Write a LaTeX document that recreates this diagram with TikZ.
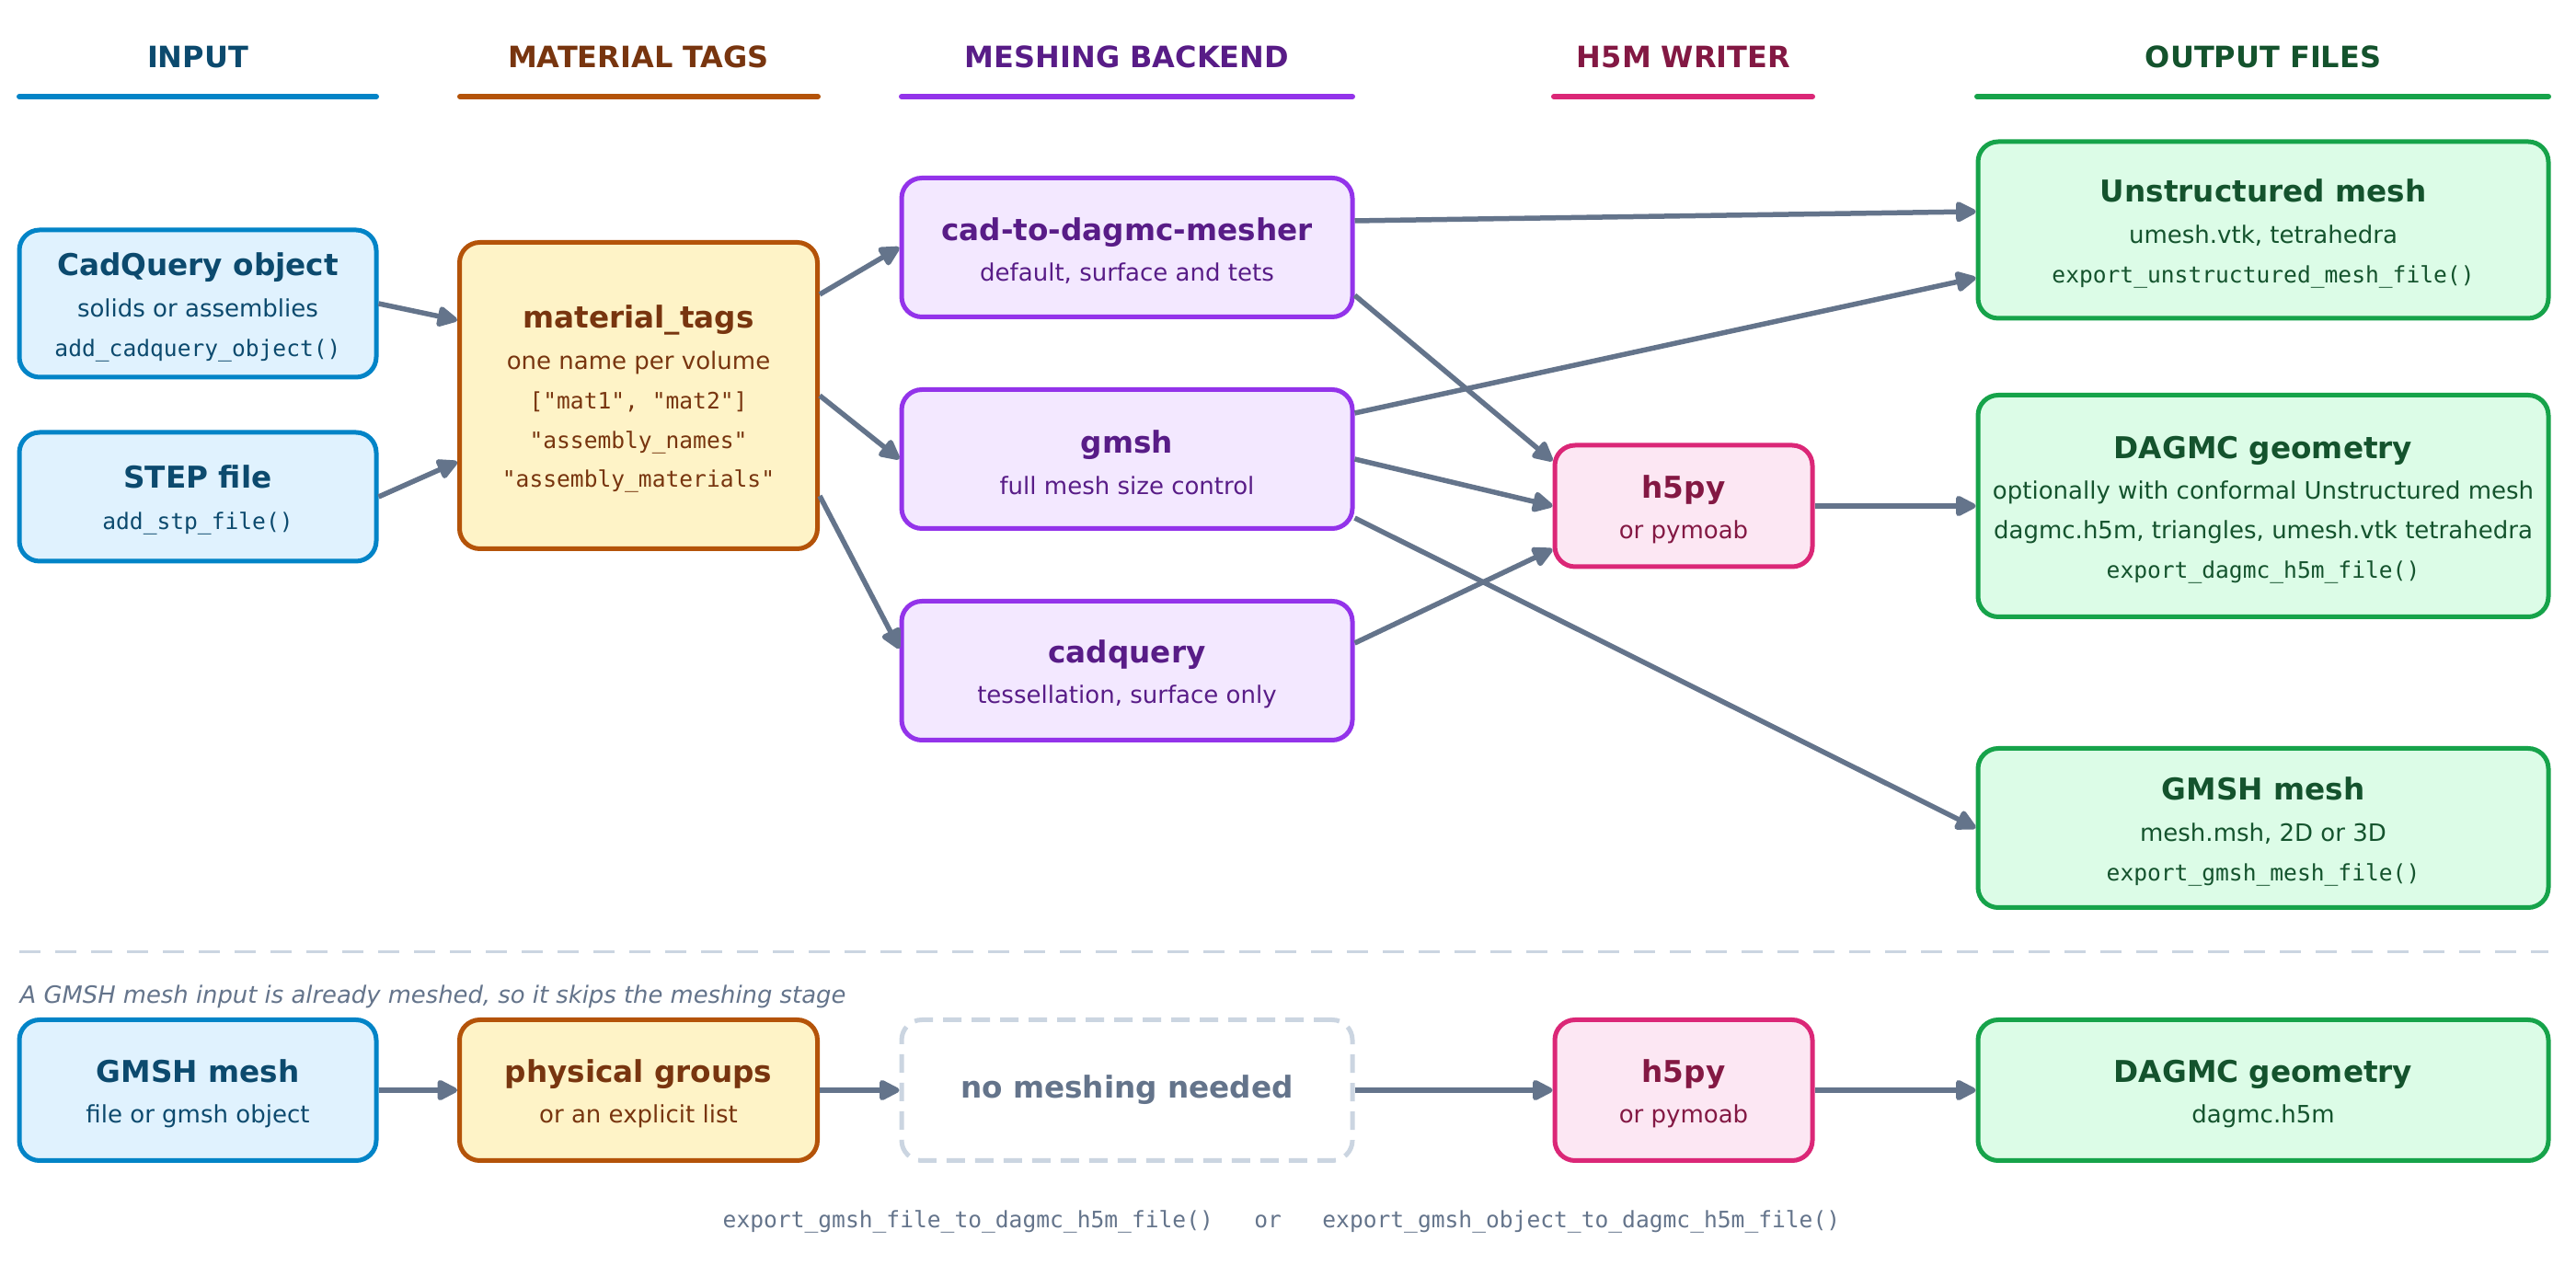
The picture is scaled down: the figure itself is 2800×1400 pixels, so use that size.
\documentclass[tikz,border=0pt]{standalone}
\usepackage{fontspec}
\setmainfont{DejaVu Sans}
\setmonofont{DejaVu Sans Mono}
\usetikzlibrary{arrows.meta}
\definecolor{InFill}{HTML}{E0F2FE}
\definecolor{InLine}{HTML}{0284C7}
\definecolor{InText}{HTML}{0C4A6E}
\definecolor{TagFill}{HTML}{FEF3C7}
\definecolor{TagLine}{HTML}{B45309}
\definecolor{TagText}{HTML}{78350F}
\definecolor{MeshFill}{HTML}{F3E8FF}
\definecolor{MeshLine}{HTML}{9333EA}
\definecolor{MeshText}{HTML}{581C87}
\definecolor{HFill}{HTML}{FCE7F3}
\definecolor{HLine}{HTML}{DB2777}
\definecolor{HText}{HTML}{831843}
\definecolor{OutFill}{HTML}{DCFCE7}
\definecolor{OutLine}{HTML}{16A34A}
\definecolor{OutText}{HTML}{14532D}
\definecolor{Edge}{HTML}{64748B}
\definecolor{Faint}{HTML}{CBD5E1}
\newcommand{\ttl}[1]{{\fontsize{9.3pt}{12.2pt}\selectfont\bfseries\rule{0pt}{9.2pt}#1}}
\newcommand{\fn}[1]{{\ttfamily\fontsize{7pt}{12.2pt}\selectfont #1}}
\tikzset{
    card/.style={rectangle, rounded corners=2.2mm, line width=0.5mm, align=center, inner sep=0pt, font=\fontsize{7.4pt}{12.2pt}\selectfont},
    incard/.style={card, fill=InFill, draw=InLine, text=InText, minimum width=38.8mm},
    tagcard/.style={card, fill=TagFill, draw=TagLine, text=TagText, minimum width=38.9mm},
    meshcard/.style={card, fill=MeshFill, draw=MeshLine, text=MeshText, minimum width=49mm, minimum height=15.1mm},
    hcard/.style={card, fill=HFill, draw=HLine, text=HText, minimum width=28mm},
    outcard/.style={card, fill=OutFill, draw=OutLine, text=OutText, minimum width=62mm},
    skipcard/.style={card, draw=Faint, dash pattern=on 2mm off 1.1mm, text=Edge, minimum width=49mm, minimum height=15.3mm},
    flow/.style={-{Triangle[length=2.5mm, width=2.4mm, round]}, line width=0.55mm, color=Edge},
    colhead/.style={font=\fontsize{9.1pt}{11pt}\selectfont\bfseries},
    colline/.style={line width=0.6mm, line cap=round},
}

\begin{document}
\begin{tikzpicture}[x=0.1mm, y=-0.1mm]
    \path[fill=white] (0,0) rectangle (2800,1400);

    % --- Intestazioni colonne ---
    \node[colhead, text=InText] (hin) at (215,62) {INPUT};
    \node[colhead, text=TagText] (htag) at (694,62) {MATERIAL TAGS};
    \node[colhead, text=MeshText] (hmesh) at (1225,62) {MESHING BACKEND};
    \node[colhead, text=HText] (hwrite) at (1830,62) {H5M WRITER};
    \node[colhead, text=OutText] (hout) at (2460,62) {OUTPUT FILES};
    \foreach \xa/\xb/\c in {21/409/InLine, 500/889/TagLine, 980/1470/MeshLine, 1689/1970/HLine, 2149/2770/OutLine}
        \draw[colline, \c] (\xa,105) -- (\xb,105);

    % --- Input ---
    \node[incard, minimum height=16mm] (cadq) at (215,330) {\ttl{CadQuery object}\\[0.5pt] solids or assemblies\\ \fn{add\_cadquery\_object()}};
    \node[incard, minimum height=14mm] (step) at (215,540) {\ttl{STEP file}\\[0.5pt] \fn{add\_stp\_file()}};

    % --- Material tags ---
    \node[tagcard, minimum height=33.3mm] (tags) at (694,430) {\ttl{material\_tags}\\[0.5pt] one name per volume\\ \fn{["mat1", "mat2"]}\\ \fn{"assembly\_names"}\\ \fn{"assembly\_materials"}};

    % --- Meshing backend ---
    \node[meshcard] (mesher) at (1225,269) {\ttl{cad-to-dagmc-mesher}\\[0.5pt] default, surface and tets};
    \node[meshcard] (gmsh) at (1225,499) {\ttl{gmsh}\\[0.5pt] full mesh size control};
    \node[meshcard] (cq) at (1225,729) {\ttl{cadquery}\\[0.5pt] tessellation, surface only};

    % --- Writer ---
    \node[hcard, minimum height=13.2mm] (h5) at (1830,550) {\ttl{h5py}\\[0.5pt] or pymoab};

    % --- Output ---
    \node[outcard, minimum height=19.2mm] (umesh) at (2460,250) {\ttl{Unstructured mesh}\\[0.5pt] umesh.vtk, tetrahedra\\ \fn{export\_unstructured\_mesh\_file()}};
    \node[outcard, minimum height=24.1mm] (dagmc) at (2460,550) {\ttl{DAGMC geometry}\\[0.5pt] optionally with conformal Unstructured mesh\\ dagmc.h5m, triangles, umesh.vtk tetrahedra\\ \fn{export\_dagmc\_h5m\_file()}};
    \node[outcard, minimum height=17.3mm] (gout) at (2460,900) {\ttl{GMSH mesh}\\[0.5pt] mesh.msh, 2D or 3D\\ \fn{export\_gmsh\_mesh\_file()}};

    % --- Frecce ---
    \draw[flow] (cadq.east) -- ([yshift=8.2mm]tags.west);
    \draw[flow] (step.east) -- ([yshift=-7.2mm]tags.west);
    \draw[flow] ([yshift=11mm]tags.east) -- (mesher.west);
    \draw[flow] (tags.east) -- (gmsh.west);
    \draw[flow] ([yshift=-10.9mm]tags.east) -- ([yshift=2.4mm]cq.west);
    \draw[flow] ([yshift=2.9mm]mesher.east) -- ([yshift=2mm]umesh.west);
    \draw[flow] ([yshift=-5.2mm]mesher.east) -- ([yshift=4.9mm]h5.west);
    \draw[flow] ([yshift=5mm]gmsh.east) -- ([yshift=-5.2mm]umesh.west);
    \draw[flow] (gmsh.east) -- (h5.west);
    \draw[flow] ([yshift=-6.4mm]gmsh.east) -- (gout.west);
    \draw[flow] ([yshift=3mm]cq.east) -- ([yshift=-4.7mm]h5.west);
    \draw[flow] (h5.east) -- (dagmc.west);

    % --- Separatore ---
    \draw[Faint, line width=0.3mm, dash pattern=on 2.3mm off 1.6mm] (21,1035) -- (2770,1035);
    \node[anchor=west, inner sep=0pt, text=Edge, font=\fontsize{7.35pt}{9pt}\selectfont\itshape] (note) at (21,1083) {A GMSH mesh input is already meshed, so it skips the meshing stage};

    % --- Percorso GMSH ---
    \node[incard, minimum height=15.3mm] (gin) at (215,1185) {\ttl{GMSH mesh}\\[0.5pt] file or gmsh object};
    \node[tagcard, minimum height=15.3mm] (phys) at (694,1185) {\ttl{physical groups}\\[0.5pt] or an explicit list};
    \node[skipcard] (nomesh) at (1225,1185) {{\fontsize{9.3pt}{12.2pt}\selectfont\bfseries no meshing needed}};
    \node[hcard, minimum height=15.3mm] (bh5) at (1830,1185) {\ttl{h5py}\\[0.5pt] or pymoab};
    \node[outcard, minimum height=15.3mm] (bdag) at (2460,1185) {\ttl{DAGMC geometry}\\[0.5pt] dagmc.h5m};
    \draw[flow] (gin) -- (phys);
    \draw[flow] (phys) -- (nomesh);
    \draw[flow] (nomesh) -- (bh5);
    \draw[flow] (bh5) -- (bdag);

    \node[text=Edge, font=\ttfamily\fontsize{7pt}{9pt}\selectfont] (calls) at (1393,1328) {export\_gmsh\_file\_to\_dagmc\_h5m\_file()\ \ \ or\ \ \ export\_gmsh\_object\_to\_dagmc\_h5m\_file()};
\end{tikzpicture}
\end{document}
